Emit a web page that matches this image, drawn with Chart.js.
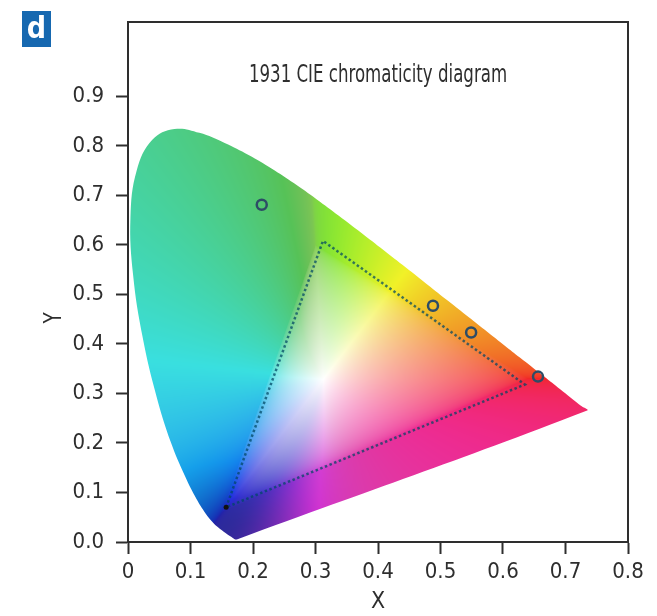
<!DOCTYPE html>
<html>
<head>
<meta charset="utf-8">
<script src="https://cdn.jsdelivr.net/npm/chart.js@4.4.1/dist/chart.umd.min.js"></script>
<style>
  body { margin: 0; background: #fff; }
  #wrap { position: relative; width: 657px; height: 616px; }
  #badge {
    position: absolute; left: 22px; top: 11px; width: 29px; height: 36px;
    background: #1668b0; color: #fff; font: bold 30px 'DejaVu Sans Condensed', sans-serif;
    text-align: center; line-height: 34px;
  }
</style>
</head>
<body>
<div id="wrap">
  <canvas id="graph"></canvas>
  <div id="badge">d</div>
</div>
<script>
// CIE 1931 spectral locus (380 nm ... 700 nm), closed by the purple line
const locusX = [0.1741, 0.1733, 0.1714, 0.1689, 0.1644, 0.1566, 0.1440, 0.1355, 0.1241, 0.1096,
                0.0913, 0.0687, 0.0454, 0.0235, 0.0082, 0.0039, 0.0139, 0.0389, 0.0743, 0.1142,
                0.1547, 0.1929, 0.2296, 0.2658, 0.3016, 0.3373, 0.3731, 0.4087, 0.4441, 0.4788,
                0.5125, 0.5448, 0.5752, 0.6029, 0.6270, 0.6658, 0.6915, 0.7079, 0.7190, 0.7260,
                0.7347, 0.1741];
const locusY = [0.0050, 0.0048, 0.0051, 0.0069, 0.0109, 0.0177, 0.0297, 0.0399, 0.0578, 0.0868,
                0.1327, 0.2007, 0.2950, 0.4127, 0.5384, 0.6548, 0.7502, 0.8120, 0.8338, 0.8262,
                0.8059, 0.7816, 0.7543, 0.7243, 0.6923, 0.6589, 0.6245, 0.5896, 0.5547, 0.5202,
                0.4866, 0.4544, 0.4242, 0.3965, 0.3725, 0.3340, 0.3083, 0.2920, 0.2809, 0.2740,
                0.2653, 0.0050];

// dotted gamut triangle (closed)
const gamutX = [0.157, 0.312, 0.635, 0.157];
const gamutY = [0.070, 0.608, 0.318, 0.070];

// measured points (open circles)
const sampleX = [0.214, 0.488, 0.549, 0.656];
const sampleY = [0.681, 0.477, 0.423, 0.334];

const xTickLabels = ['0', '0.1', '0.2', '0.3', '0.4', '0.5', '0.6', '0.7', '0.8'];
const yTickLabels = ['0.0', '0.1', '0.2', '0.3', '0.4', '0.5', '0.6', '0.7', '0.8', '0.9'];

const FONT = "'DejaVu Sans Condensed', sans-serif";
const INK = '#2e2e2e';

const pts = (xs, ys) => xs.map((x, i) => ({ x: x, y: ys[i] }));
const bump = (v, c, w) => Math.exp(-Math.pow((v - c) / w, 2));

const rgbToHsl = (r, g, b) => {
    const mx = Math.max(r, g, b), mn = Math.min(r, g, b);
    const l = (mx + mn) / 2;
    if (mx === mn) return [0, 0, l];
    const d = mx - mn;
    const s = d / (1 - Math.abs(2 * l - 1));
    let h;
    if (mx === r) h = ((g - b) / d) % 6;
    else if (mx === g) h = (b - r) / d + 2;
    else h = (r - g) / d + 4;
    h *= 60;
    if (h < 0) h += 360;
    return [h, s, l];
};
const hslToRgb = (h, s, l) => {
    const c = (1 - Math.abs(2 * l - 1)) * s;
    const hp = ((h % 360) + 360) % 360 / 60;
    const x = c * (1 - Math.abs(hp % 2 - 1));
    let r = 0, g = 0, b = 0;
    if (hp < 1) { r = c; g = x; }
    else if (hp < 2) { r = x; g = c; }
    else if (hp < 3) { g = c; b = x; }
    else if (hp < 4) { g = x; b = c; }
    else if (hp < 5) { r = x; b = c; }
    else { r = c; b = x; }
    const m = l - c / 2;
    return [r + m, g + m, b + m];
};

// colour of a chromaticity point (x, y), toned down like the printed figure
const chromaColor = (x, y) => {
    const yy = Math.max(y, 0.002);
    const X = x / yy, Z = (1 - x - yy) / yy;
    let r = 3.2406 * X - 1.5372 - 0.4986 * Z;
    let g = -0.9689 * X + 1.8758 + 0.0415 * Z;
    let b = 0.0557 * X - 0.2040 + 1.0570 * Z;
    const m = Math.min(r, g, b);
    if (m < 0) { r -= m; g -= m; b -= m; }
    const M = Math.max(r, g, b);
    const lin = [r, g, b].map(c => {
        c = c / M;
        return c <= 0.0031308 ? 12.92 * c : 1.055 * Math.pow(c, 1 / 2.4) - 0.055;
    });
    let [h, s, l] = rgbToHsl(lin[0], lin[1], lin[2]);
    const h0 = h;
    h = h - 30 * bump(h0, 134, 28) + 6 * bump(h0, 186, 18) - 25 * bump(h0, 272, 22) + 12 * bump(h0, 305, 18);
    s = s * (0.88 - 0.42 * bump(h0, 140, 38) - 0.3 * bump(h0, 262, 30) - 0.18 * bump(h0, 300, 20));
    l = l * 0.9 + 0.1;
    const d = Math.hypot(x - 0.16, y - 0.02);
    l = l * (1 - 0.3 * bump(d, 0, 0.13));
    return hslToRgb(h, Math.min(1, s), l).map(c => Math.round(255 * Math.max(0, Math.min(1, c))));
};

let patternCache = { key: null, pattern: null };
const locusPattern = (chart) => {
    const a = chart.chartArea;
    if (!a) return 'transparent';
    const key = [chart.width, chart.height, a.left, a.top, a.right, a.bottom].join(',');
    if (patternCache.key === key) return patternCache.pattern;
    const off = document.createElement('canvas');
    off.width = chart.width;
    off.height = chart.height;
    const octx = off.getContext('2d');
    const l = Math.floor(a.left), t = Math.floor(a.top);
    const w = Math.ceil(a.right) - l, h = Math.ceil(a.bottom) - t;
    const img = octx.createImageData(w, h);
    const sx = chart.scales.x, sy = chart.scales.y;
    for (let py = 0; py < h; py++) {
        const yv = sy.getValueForPixel(t + py + 0.5);
        for (let px = 0; px < w; px++) {
            const xv = sx.getValueForPixel(l + px + 0.5);
            const c = chromaColor(xv, yv);
            const k = (py * w + px) * 4;
            img.data[k] = c[0]; img.data[k + 1] = c[1]; img.data[k + 2] = c[2]; img.data[k + 3] = 255;
        }
    }
    octx.putImageData(img, l, t);
    patternCache = { key: key, pattern: chart.ctx.createPattern(off, 'no-repeat') };
    return patternCache.pattern;
};

// frame on top/right, inner title and the rotated Y label (narrow type like the figure)
const decorations = {
    id: 'decorations',
    afterDraw(chart) {
        const { ctx, chartArea: a } = chart;
        ctx.save();
        ctx.strokeStyle = INK;
        ctx.lineWidth = 2;
        ctx.beginPath();
        ctx.moveTo(a.left, a.top);
        ctx.lineTo(a.right, a.top);
        ctx.lineTo(a.right, a.bottom);
        ctx.stroke();

        ctx.fillStyle = INK;
        ctx.font = '24px ' + FONT;
        ctx.textAlign = 'center';
        ctx.textBaseline = 'alphabetic';
        ctx.save();
        ctx.translate((a.left + a.right) / 2, 82);
        ctx.scale(0.77, 1);
        ctx.fillText('1931 CIE chromaticity diagram', 0, 0);
        ctx.restore();

        ctx.translate(55, 318);
        ctx.rotate(-Math.PI / 2);
        ctx.scale(0.85, 1);
        ctx.textBaseline = 'middle';
        ctx.fillText('Y', 0, 0);
        ctx.restore();
    }
};

const ctx = document.getElementById('graph').getContext('2d');
const cieChart = new Chart(ctx, {
    type: 'scatter',
    data: {
        datasets: [{
            label: 'samples',
            data: pts(sampleX, sampleY),
            pointStyle: 'circle',
            pointRadius: 5,
            pointBorderWidth: 2.5,
            pointBorderColor: '#2d4c66',
            pointBackgroundColor: 'transparent',
            showLine: false,
            order: 1
        }, {
            label: 'gamut',
            data: pts(gamutX, gamutY),
            showLine: true,
            borderColor: 'rgba(0, 70, 100, 0.72)',
            borderWidth: 2.5,
            borderDash: [2.5, 2.5],
            pointRadius: [2.5, 0, 0, 0],
            pointBackgroundColor: '#111',
            pointBorderWidth: 0,
            fill: false,
            order: 2
        }, {
            label: 'locus',
            data: pts(locusX, locusY),
            showLine: true,
            borderWidth: 0,
            borderColor: 'transparent',
            backgroundColor: (c) => locusPattern(c.chart),
            pointRadius: 0,
            fill: 'shape',
            tension: 0.4,
            order: 3
        }]
    },
    options: {
        responsive: true,
        maintainAspectRatio: false,
        animation: false,
        layout: { padding: { left: 0, top: 22, right: 29, bottom: 0 } },
        scales: {
            x: {
                type: 'linear',
                min: 0,
                max: 0.8,
                afterBuildTicks: (s) => { s.ticks = xTickLabels.map(v => ({ value: parseFloat(v) })); },
                afterFit: (s) => { s.height = 74; s.paddingLeft = 0; s.paddingRight = 0; },
                ticks: {
                    color: INK,
                    font: { family: FONT, size: 22 },
                    padding: 5,
                    maxRotation: 0,
                    callback: (v, i) => xTickLabels[i]
                },
                grid: { drawOnChartArea: false, drawTicks: true, tickLength: 12, tickWidth: 2, color: INK },
                border: { color: INK, width: 2 },
                title: {
                    display: true,
                    text: 'X',
                    color: INK,
                    font: { family: FONT, size: 23 },
                    padding: { top: 2, bottom: 0 }
                }
            },
            y: {
                type: 'linear',
                min: 0,
                max: 1.05,
                afterBuildTicks: (s) => { s.ticks = yTickLabels.map(v => ({ value: parseFloat(v) })); },
                afterFit: (s) => { s.width = 128; s.paddingTop = 0; s.paddingBottom = 0; },
                ticks: {
                    color: INK,
                    font: { family: FONT, size: 22 },
                    padding: 12,
                    callback: (v, i) => yTickLabels[i]
                },
                grid: { drawOnChartArea: false, drawTicks: true, tickLength: 12, tickWidth: 2, color: INK },
                border: { color: INK, width: 2 }
            }
        },
        plugins: {
            legend: { display: false },
            tooltip: { enabled: false }
        }
    },
    plugins: [decorations]
});
</script>
</body>
</html>
